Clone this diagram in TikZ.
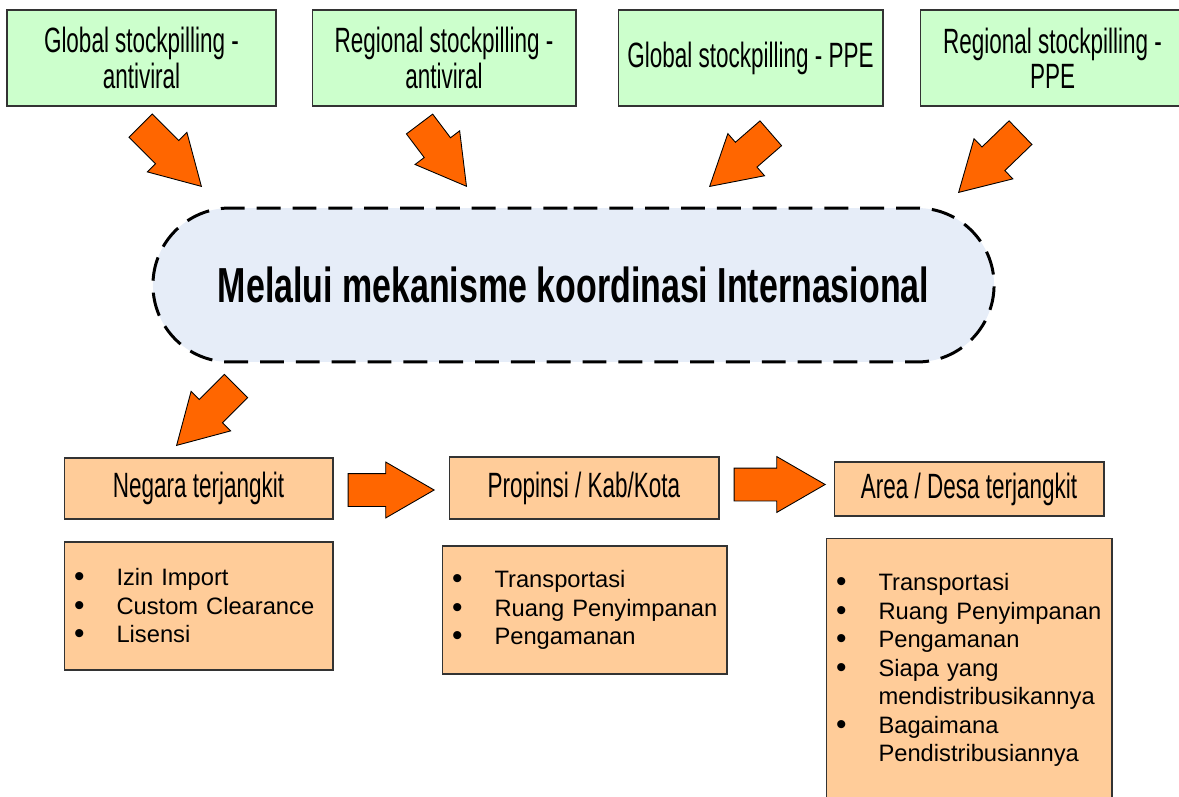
\documentclass[tikz,border=0pt]{standalone}
\usepackage{fontspec}
\setmainfont{Liberation Sans}
\newfontfamily\agency{Liberation Sans}[FakeStretch=0.64]
\newfontfamily\agencytitle{Liberation Sans}[FakeStretch=0.69]
\usetikzlibrary{shapes.arrows,shapes.misc,positioning}
\definecolor{stockgreen}{HTML}{CCFFCC}
\definecolor{levelorange}{HTML}{FFCC99}
\definecolor{arroworange}{HTML}{FF6600}
\definecolor{coordblue}{HTML}{E6EDF8}
\newcommand{\bul}[1]{\mbox{\makebox[0.85cm][l]{\raisebox{-0.6pt}{\fontsize{17}{16}\selectfont\textbullet}}#1}}
\newcommand{\bulcont}[1]{\mbox{\hspace*{0.85cm}#1}}

\begin{document}
\begin{tikzpicture}[x=0.02cm, y=-0.02cm,
  stockbox/.style={draw=black!80, line width=0.6pt, fill=stockgreen, align=center,
    inner sep=0pt, minimum height=1.92cm, font=\agency\fontsize{20}{20}\selectfont},
  levelbox/.style={draw=black!80, line width=0.6pt, fill=levelorange, align=center,
    inner sep=0pt, font=\agency\fontsize{20}{20}\selectfont},
  listbox/.style={draw=black!80, line width=0.6pt, fill=levelorange, align=left,
    inner xsep=0.2cm, inner ysep=0pt, font=\fontsize{13.5}{16.2}\selectfont},
  bigarrow/.style={single arrow, draw=black, line width=0.5pt, fill=arroworange,
    inner xsep=0pt, inner ysep=0.32cm, single arrow head extend=0.23cm,
    single arrow tip angle=60, minimum height=1.72cm, anchor=tip}]
  \clip (0,0) rectangle (1179,797);

  % Stockpiles
  \foreach \cx/\bw/\name/\txt in {141.5/5.38/globAnti/{Global stockpilling -\\antiviral},
      444/5.28/regAnti/{Regional stockpilling -\\antiviral},
      750.5/5.30/globPPE/{Global stockpilling - PPE},
      1052.5/5.30/regPPE/{Regional stockpilling -\\PPE}} {
    \node[stockbox, minimum width=\bw cm] (\name) at (\cx,58) {\txt};
  }

  % Coordination
  \node[rounded rectangle, draw=black, line width=1.7pt, dash pattern=on 13.6pt off 6.8pt,
    fill=coordblue, minimum width=17.06cm, minimum height=3.08cm,
    font=\agencytitle\bfseries\fontsize{28}{28}\selectfont] (coord) at (573.5,285)
    {Melalui mekanisme koordinasi Internasional};

  % Arrows into coordination
  \node[bigarrow, rotate=-45] (arrGlobAnti) at (202,187) {};
  \node[bigarrow, rotate=-53, minimum height=1.56cm] (arrRegAnti) at (467,187) {};
  \node[bigarrow, rotate=-139, minimum height=1.62cm] (arrGlobPPE) at (709,187) {};
  \node[bigarrow, rotate=-136] (arrRegPPE) at (958,193) {};
  \node[bigarrow, rotate=-135, minimum height=1.68cm] (arrNegara) at (176,446) {};

  % Levels
  \node[levelbox, minimum width=5.38cm, minimum height=1.22cm] (negara) at (198.5,488.5) {Negara terjangkit};
  \node[levelbox, minimum width=5.40cm, minimum height=1.24cm] (propinsi) at (584,488) {Propinsi / Kab/Kota};
  \node[levelbox, minimum width=5.40cm, minimum height=1.08cm] (desa) at (969,489) {Area / Desa terjangkit};

  \node[bigarrow] (arrPropinsi) at (435,490) {};
  \node[bigarrow, minimum height=1.82cm] (arrDesa) at (826,484.5) {};

  % Lists
  \node[listbox, text width=4.98cm, minimum height=2.56cm] (listNegara) at (198.5,606)
    {\bul{Izin Import}\\ \bul{Custom Clearance}\\ \bul{Lisensi}};
  \node[listbox, text width=5.30cm, minimum height=2.56cm] (listPropinsi) at (584.5,610)
    {\bul{Transportasi}\\ \bul{Ruang Penyimpanan}\\ \bul{Pengamanan}};
  \node[listbox, text width=5.32cm, minimum height=5.28cm] (listDesa) at (969,670)
    {\bul{Transportasi}\\ \bul{Ruang Penyimpanan}\\ \bul{Pengamanan}\\
     \bul{Siapa yang}\\ \bulcont{mendistribusikannya}\\
     \bul{Bagaimana}\\ \bulcont{Pendistribusiannya}};
\end{tikzpicture}
\end{document}
